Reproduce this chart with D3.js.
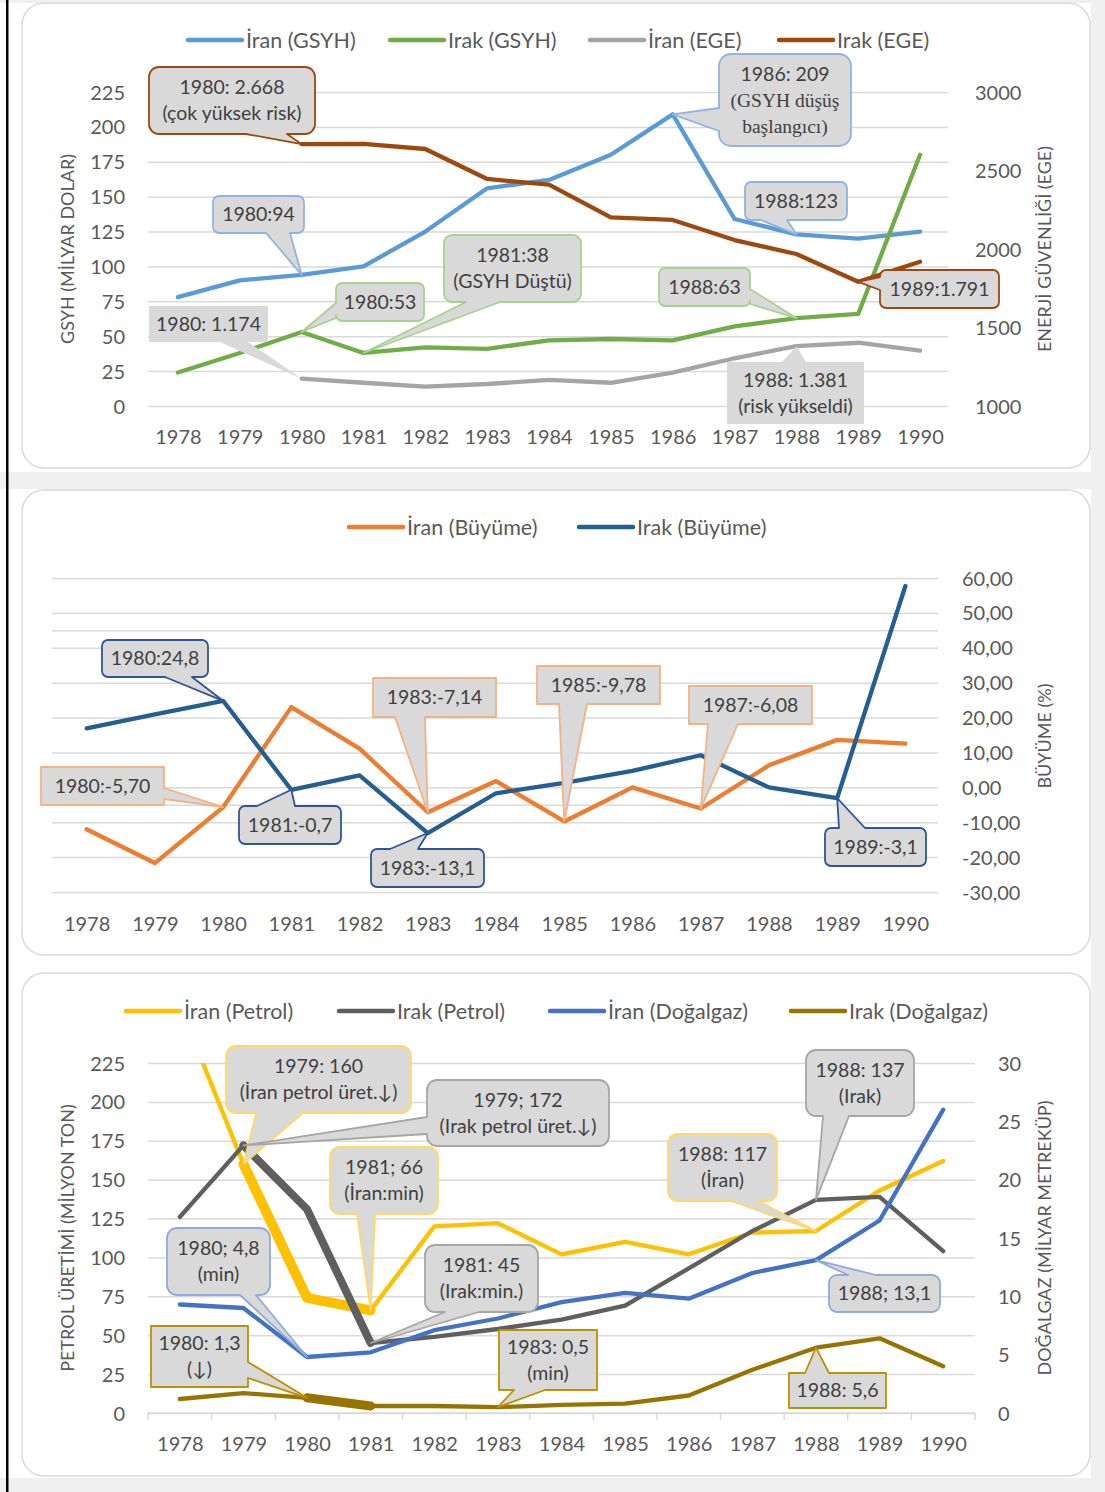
<!DOCTYPE html>
<html>
<head>
<meta charset="utf-8">
<script src="https://cdn.jsdelivr.net/npm/d3@7"></script>
<style>
  body { margin: 0; background: #fff; }
  svg { display: block; }
</style>
</head>
<body>
<div id="chart"></div>
<script>
// ---- data ----
const years = [1978, 1979, 1980, 1981, 1982, 1983, 1984, 1985, 1986, 1987, 1988, 1989, 1990];

// panel 1: GSYH (milyar dolar) + enerji güvenliği (EGE)
const iranGsyh = [78, 90, 94, 100, 125, 156, 162, 180, 209, 134, 123, 120, 125];
const irakGsyh = [24, 38, 53, 38, 42, 41, 47, 48, 47, 57, 63, 66, 180];
const iranEge = [null, null, 1174, 1148, 1123, 1140, 1166, 1148, 1212, 1304, 1381, 1403, 1352];
const irakEge = [null, null, 2668, 2670, 2637, 2446, 2410, 2202, 2185, 2057, 1968, 1791, 1919];
const p1LeftTicks = [0, 25, 50, 75, 100, 125, 150, 175, 200, 225];
const p1RightTicks = [1000, 1500, 2000, 2500, 3000];

// panel 2: büyüme (%)
const iranBuyume = [-12.0, -21.7, -5.70, 23.0, 11.1, -7.14, 1.8, -9.78, 0.0, -6.08, 6.3, 13.6, 12.5];
const irakBuyume = [16.9, 20.9, 24.8, -0.7, 3.4, -13.1, -1.7, 1.3, 4.7, 9.2, 0.0, -3.1, 57.7];
const p2Ticks = [-30, -20, -10, 0, 10, 20, 30, 40, 50, 60];
const p2ExtraGrid = [45, -5];

// panel 3: petrol (milyon ton) + doğalgaz (milyar m3)
const iranPetrol = [262, 160, 74, 66, 120, 122, 102, 110, 102, 116, 117, 143, 162];
const irakPetrol = [126, 172, 131, 45, 49, 54, 60, 69, 93, 117, 137, 139, 104];
const iranGaz = [9.3, 9.0, 4.8, 5.2, 7.1, 8.1, 9.5, 10.3, 9.8, 12.0, 13.1, 16.5, 26.0];
const irakGaz = [1.2, 1.7, 1.3, 0.6, 0.6, 0.5, 0.7, 0.8, 1.5, 3.7, 5.6, 6.4, 4.0];
const p3LeftTicks = [0, 25, 50, 75, 100, 125, 150, 175, 200, 225];
const p3RightTicks = [0, 5, 10, 15, 20, 25, 30];

// ---- page setup ----
const width = 1105, height = 1492;
const font = "Lato, 'Open Sans', sans-serif";
const labelColor = "#595959";
const gridColor = "#d9d9d9";
const calloutFill = "#d9d9d9";

const svg = d3.select("#chart").append("svg")
  .attr("width", width)
  .attr("height", height)
  .attr("font-family", font);

// background strips between the stacked chart images
const bg = svg.append("g");
bg.append("rect").attr("width", width).attr("height", height).attr("fill", "#fff");
[[0, 0, width, 3], [0, 472, width, 17], [1091, 0, 14, height], [0, 1478, width, 14]]
  .forEach(([x, y, w, h]) => bg.append("rect").attr("x", x).attr("y", y).attr("width", w).attr("height", h).attr("fill", "#f0f0f0"));
bg.append("rect").attr("x", 6).attr("y", 0).attr("width", 2.5).attr("height", height).attr("fill", "#000");

function drawPanel(y0, y1) {
  svg.append("rect")
    .attr("x", 22).attr("y", y0)
    .attr("width", 1068).attr("height", y1 - y0)
    .attr("rx", 22)
    .attr("fill", "#fff")
    .attr("stroke", gridColor)
    .attr("stroke-width", 1.5);
}

function drawGrid(yScale, ticks, x0, x1) {
  const g = svg.append("g")
    .attr("transform", `translate(${x0},0)`)
    .call(d3.axisLeft(yScale).tickValues(ticks).tickSize(-(x1 - x0)).tickFormat(""));
  g.select(".domain").remove();
  g.selectAll("line").attr("stroke", gridColor).attr("stroke-width", 1.5);
}

function drawYAxis(yScale, ticks, x, side, fmt) {
  const axis = side === "left" ? d3.axisLeft(yScale) : d3.axisRight(yScale);
  const g = svg.append("g")
    .attr("transform", `translate(${x},0)`)
    .call(axis.tickValues(ticks).tickSize(0).tickPadding(0).tickFormat(fmt || (d => d)));
  g.select(".domain").remove();
  g.selectAll("text")
    .attr("font-family", font)
    .attr("font-size", 20)
    .attr("fill", labelColor)
    .attr("dy", "0.35em");
}

function drawXAxis(xScale, y) {
  const g = svg.append("g")
    .attr("transform", `translate(0,${y})`)
    .call(d3.axisBottom(xScale).tickSize(0).tickPadding(0));
  g.select(".domain").remove();
  g.selectAll("text")
    .attr("font-family", font)
    .attr("font-size", 20)
    .attr("fill", labelColor)
    .attr("y", 0)
    .attr("dy", "0.35em");
}

function axisTitle(text, x, y) {
  svg.append("text")
    .attr("transform", `translate(${x},${y}) rotate(-90)`)
    .attr("text-anchor", "middle")
    .attr("dy", "0.35em")
    .attr("font-size", 18)
    .attr("fill", labelColor)
    .text(text);
}

function drawLegend(items, y) {
  const g = svg.append("g");
  items.forEach(it => {
    g.append("line")
      .attr("x1", it.x).attr("x2", it.x + 54)
      .attr("y1", y).attr("y2", y)
      .attr("stroke", it.color).attr("stroke-width", 4.5)
      .attr("stroke-linecap", "round");
    g.append("text")
      .attr("x", it.x + 58).attr("y", y)
      .attr("dy", "0.35em")
      .attr("font-size", 21.5)
      .attr("fill", labelColor)
      .text(it.name);
  });
}

function drawSeries(values, x, y, color, w, clip) {
  const pts = years.map((yr, i) => ({ yr, v: values[i] }));
  const line = d3.line()
    .defined(d => d.v !== null)
    .x(d => x(d.yr))
    .y(d => y(d.v));
  svg.append("path")
    .datum(pts)
    .attr("d", line)
    .attr("fill", "none")
    .attr("stroke", color)
    .attr("stroke-width", w)
    .attr("stroke-linejoin", "round")
    .attr("stroke-linecap", "round")
    .attr("clip-path", clip ? `url(#${clip})` : null);
}

function drawHighlight(values, x, y, color, w, from, to) {
  const pts = years.map((yr, i) => ({ yr, v: values[i] })).filter(d => d.yr >= from && d.yr <= to);
  svg.append("path")
    .datum(pts)
    .attr("d", d3.line().x(d => x(d.yr)).y(d => y(d.v)))
    .attr("fill", "none")
    .attr("stroke", color)
    .attr("stroke-width", w)
    .attr("stroke-linejoin", "round")
    .attr("stroke-linecap", "round");
}

// box outline with a pointer wedge on one side
function calloutPath(b, side, base, tip, r) {
  const [x0, y0, x1, y1] = b;
  const [a, c] = base;
  const [tx, ty] = tip;
  let p = `M${x0 + r},${y0}`;
  if (side === "top") p += `L${a},${y0}L${tx},${ty}L${c},${y0}`;
  p += `L${x1 - r},${y0}`;
  if (r) p += `A${r},${r} 0 0 1 ${x1},${y0 + r}`;
  if (side === "right") p += `L${x1},${a}L${tx},${ty}L${x1},${c}`;
  p += `L${x1},${y1 - r}`;
  if (r) p += `A${r},${r} 0 0 1 ${x1 - r},${y1}`;
  if (side === "bottom") p += `L${c},${y1}L${tx},${ty}L${a},${y1}`;
  p += `L${x0 + r},${y1}`;
  if (r) p += `A${r},${r} 0 0 1 ${x0},${y1 - r}`;
  if (side === "left") p += `L${x0},${c}L${tx},${ty}L${x0},${a}`;
  p += `L${x0},${y0 + r}`;
  if (r) p += `A${r},${r} 0 0 1 ${x0 + r},${y0}`;
  return p + "Z";
}

function drawCallouts(notes, x, seriesMap) {
  const g = svg.append("g");
  notes.forEach(n => {
    const s = seriesMap[n.series];
    const tip = [x(n.year), s.y(s.values[years.indexOf(n.year)])];
    g.append("path")
      .attr("d", calloutPath(n.box, n.side, n.base, tip, n.r))
      .attr("fill", calloutFill)
      .attr("stroke", n.border || "none")
      .attr("stroke-width", 1.8)
      .attr("stroke-linejoin", "round");
    const cx = (n.box[0] + n.box[2]) / 2;
    const cy = (n.box[1] + n.box[3]) / 2;
    n.lines.forEach((t, i) => {
      g.append("text")
        .attr("x", cx)
        .attr("y", cy + (i - (n.lines.length - 1) / 2) * 26)
        .attr("dy", "0.35em")
        .attr("text-anchor", "middle")
        .attr("font-family", n.serifFrom !== undefined && i >= n.serifFrom ? "'Liberation Serif', serif" : font)
        .attr("font-size", 19.5)
        .attr("fill", "#404040")
        .text(t);
    });
  });
}

// ================= PANEL 1 =================
drawPanel(3, 468);
const x1 = d3.scalePoint().domain(years).range([147, 951]).padding(0.5);
const y1L = d3.scaleLinear().domain([0, 225]).range([406, 92]);
const y1R = d3.scaleLinear().domain([1000, 3000]).range([406, 92]);

drawGrid(y1L, p1LeftTicks, 148, 948);
drawYAxis(y1L, p1LeftTicks, 125, "left");
drawYAxis(y1R, p1RightTicks, 975, "right");
drawXAxis(x1, 437);
axisTitle("GSYH (MİLYAR DOLAR)", 68, 249);
axisTitle("ENERJİ GÜVENLİĞİ (EGE)", 1045, 249);

const c1 = { iranGsyh: "#5b9bd5", irakGsyh: "#70ad47", iranEge: "#a5a5a5", irakEge: "#9e480e" };
drawLegend([
  { name: "İran (GSYH)", color: c1.iranGsyh, x: 188 },
  { name: "Irak (GSYH)", color: c1.irakGsyh, x: 390 },
  { name: "İran (EGE)", color: c1.iranEge, x: 590 },
  { name: "Irak (EGE)", color: c1.irakEge, x: 779 }
], 40);

drawSeries(iranGsyh, x1, y1L, c1.iranGsyh, 4.3);
drawSeries(irakGsyh, x1, y1L, c1.irakGsyh, 4.3);
drawSeries(iranEge, x1, y1R, c1.iranEge, 4.3);
drawSeries(irakEge, x1, y1R, c1.irakEge, 4.3);

const s1 = {
  iranGsyh: { values: iranGsyh, y: y1L },
  irakGsyh: { values: irakGsyh, y: y1L },
  iranEge: { values: iranEge, y: y1R },
  irakEge: { values: irakEge, y: y1R }
};
drawCallouts([
  { series: "irakEge", year: 1980, lines: ["1980: 2.668", "(çok yüksek risk)"], box: [149, 67, 315, 134], side: "bottom", base: [246, 287], r: 10, border: "#9e480e" },
  { series: "iranGsyh", year: 1980, lines: ["1980:94"], box: [213, 196, 304, 233], side: "bottom", base: [266, 290], r: 6, border: "#8eb4e3" },
  { series: "irakGsyh", year: 1980, lines: ["1980:53"], box: [336, 283, 424, 321], side: "left", base: [303, 318], r: 6, border: "#a9d18e" },
  { series: "irakGsyh", year: 1981, lines: ["1981:38", "(GSYH Düştü)"], box: [444, 235, 581, 302], side: "bottom", base: [466, 500], r: 8, border: "#a9d18e" },
  { series: "iranEge", year: 1980, lines: ["1980: 1.174"], box: [149, 306, 268, 342], side: "bottom", base: [220, 248], r: 0 },
  { series: "iranGsyh", year: 1986, lines: ["1986: 209", "(GSYH düşüş", "başlangıcı)"], serifFrom: 1, box: [719, 54, 851, 146], side: "left", base: [108, 131], r: 12, border: "#8eb4e3" },
  { series: "iranGsyh", year: 1988, lines: ["1988:123"], box: [745, 182, 847, 220], side: "bottom", base: [761, 787], r: 6, border: "#8eb4e3" },
  { series: "irakGsyh", year: 1988, lines: ["1988:63"], box: [659, 268, 750, 306], side: "right", base: [289, 304], r: 6, border: "#a9d18e" },
  { series: "irakEge", year: 1989, lines: ["1989:1.791"], box: [880, 270, 999, 308], side: "left", base: [277, 290], r: 6, border: "#9e480e" },
  { series: "iranEge", year: 1988, lines: ["1988: 1.381", "(risk yükseldi)"], box: [727, 362, 864, 424], side: "top", base: [782, 806], r: 0 }
], x1, s1);

// ================= PANEL 2 =================
drawPanel(490, 955);
const x2 = d3.scalePoint().domain(years).range([52.5, 939.5]).padding(0.5);
const y2 = d3.scaleLinear().domain([-30, 60]).range([892, 578]);
const trLocale = d3.formatLocale({ decimal: ",", thousands: ".", grouping: [3], currency: ["", "₺"], minus: "-" });
const fmt2 = trLocale.format(".2f");

drawGrid(y2, p2Ticks.concat(p2ExtraGrid), 52, 938);
drawYAxis(y2, p2Ticks, 962, "right", fmt2);
drawXAxis(x2, 924);
axisTitle("BÜYÜME (%)", 1045, 736);

const c2 = { iran: "#ed7d31", irak: "#255e91" };
drawLegend([
  { name: "İran (Büyüme)", color: c2.iran, x: 349 },
  { name: "Irak (Büyüme)", color: c2.irak, x: 579 }
], 527);

drawSeries(iranBuyume, x2, y2, c2.iran, 4.3);
drawSeries(irakBuyume, x2, y2, c2.irak, 4.3);

const s2 = {
  iran: { values: iranBuyume, y: y2 },
  irak: { values: irakBuyume, y: y2 }
};
drawCallouts([
  { series: "irak", year: 1980, lines: ["1980:24,8"], box: [102, 640, 208, 677], side: "bottom", base: [165, 192], r: 6, border: "#2f5597" },
  { series: "iran", year: 1980, lines: ["1980:-5,70"], box: [41, 767, 164, 805], side: "right", base: [788, 799], r: 0, border: "#f4b183" },
  { series: "irak", year: 1981, lines: ["1981:-0,7"], box: [239, 806, 341, 844], side: "top", base: [257, 295], r: 6, border: "#2f5597" },
  { series: "iran", year: 1983, lines: ["1983:-7,14"], box: [373, 678, 496, 717], side: "bottom", base: [395, 425], r: 0, border: "#f4b183" },
  { series: "irak", year: 1983, lines: ["1983:-13,1"], box: [371, 849, 484, 887], side: "top", base: [390, 418], r: 6, border: "#2f5597" },
  { series: "iran", year: 1985, lines: ["1985:-9,78"], box: [537, 666, 660, 704], side: "bottom", base: [559, 587], r: 0, border: "#f4b183" },
  { series: "iran", year: 1987, lines: ["1987:-6,08"], box: [689, 686, 812, 724], side: "bottom", base: [708, 738], r: 0, border: "#f4b183" },
  { series: "irak", year: 1989, lines: ["1989:-3,1"], box: [825, 828, 926, 866], side: "top", base: [839, 865], r: 6, border: "#2f5597" }
], x2, s2);

// ================= PANEL 3 =================
drawPanel(973, 1476);
const x3 = d3.scalePoint().domain(years).range([148, 975]).padding(0.5);
const x3Band = d3.scaleBand().domain(years).range([148, 975]);
const y3L = d3.scaleLinear().domain([0, 225]).range([1413, 1063]);
const y3R = d3.scaleLinear().domain([0, 30]).range([1413, 1063]);

drawGrid(y3L, p3LeftTicks, 148, 975);
// category axis with tick marks between years
const xa = svg.append("g").attr("stroke", gridColor).attr("stroke-width", 1.5);
xa.append("line").attr("x1", 148).attr("x2", 975).attr("y1", y3L(0)).attr("y2", y3L(0));
years.map(d => x3Band(d)).concat([x3Band(years[years.length - 1]) + x3Band.bandwidth()])
  .forEach(bx => xa.append("line").attr("x1", bx).attr("x2", bx).attr("y1", y3L(0)).attr("y2", y3L(0) + 7));

drawYAxis(y3L, p3LeftTicks, 125, "left");
drawYAxis(y3R, p3RightTicks, 998, "right");
drawXAxis(x3, 1444);
axisTitle("PETROL ÜRETİMİ (MİLYON TON)", 68, 1238);
axisTitle("DOĞALGAZ (MİLYAR METREKÜP)", 1045, 1238);

const c3 = { iranPetrol: "#ffc000", irakPetrol: "#5f5f5f", iranGaz: "#4472c4", irakGaz: "#997300" };
drawLegend([
  { name: "İran (Petrol)", color: c3.iranPetrol, x: 126 },
  { name: "Irak (Petrol)", color: c3.irakPetrol, x: 339 },
  { name: "İran (Doğalgaz)", color: c3.iranGaz, x: 550 },
  { name: "Irak (Doğalgaz)", color: c3.irakGaz, x: 791 }
], 1011);

svg.append("clipPath").attr("id", "clip3")
  .append("rect").attr("x", 140).attr("y", 1063).attr("width", 845).attr("height", 360);

drawSeries(iranPetrol, x3, y3L, c3.iranPetrol, 4.3, "clip3");
drawHighlight(iranPetrol, x3, y3L, c3.iranPetrol, 10, 1979, 1981);
drawSeries(irakPetrol, x3, y3L, c3.irakPetrol, 4.3, "clip3");
drawHighlight(irakPetrol, x3, y3L, c3.irakPetrol, 8, 1979, 1981);
drawSeries(iranGaz, x3, y3R, c3.iranGaz, 4.3, "clip3");
drawSeries(irakGaz, x3, y3R, c3.irakGaz, 4.3, "clip3");
drawHighlight(irakGaz, x3, y3R, c3.irakGaz, 9, 1980, 1981);

const s3 = {
  iranPetrol: { values: iranPetrol, y: y3L },
  irakPetrol: { values: irakPetrol, y: y3L },
  iranGaz: { values: iranGaz, y: y3R },
  irakGaz: { values: irakGaz, y: y3R }
};
drawCallouts([
  { series: "iranPetrol", year: 1979, lines: ["1979: 160", "(İran petrol üret.↓)"], box: [226, 1046, 411, 1113], side: "bottom", base: [256, 303], r: 10, border: "#ffd966" },
  { series: "irakPetrol", year: 1979, lines: ["1979; 172", "(Irak petrol üret.↓)"], box: [427, 1080, 609, 1146], side: "left", base: [1117, 1134], r: 10, border: "#a6a6a6" },
  { series: "iranPetrol", year: 1981, lines: ["1981; 66", "(İran:min)"], box: [330, 1147, 438, 1214], side: "bottom", base: [357, 375], r: 10, border: "#ffd966" },
  { series: "iranGaz", year: 1980, lines: ["1980; 4,8", "(min)"], box: [167, 1228, 270, 1295], side: "bottom", base: [240, 256], r: 10, border: "#8faadc" },
  { series: "irakPetrol", year: 1981, lines: ["1981: 45", "(Irak:min.)"], box: [425, 1245, 538, 1312], side: "bottom", base: [445, 479], r: 10, border: "#a6a6a6" },
  { series: "irakGaz", year: 1980, lines: ["1980: 1,3", "(↓)"], box: [151, 1326, 248, 1387], side: "right", base: [1362, 1378], r: 0, border: "#bf9000" },
  { series: "irakGaz", year: 1983, lines: ["1983: 0,5", "(min)"], box: [499, 1330, 597, 1390], side: "bottom", base: [514, 545], r: 0, border: "#bf9000" },
  { series: "iranPetrol", year: 1988, lines: ["1988: 117", "(İran)"], box: [668, 1134, 777, 1201], side: "bottom", base: [731, 758], r: 10, border: "#ffd966" },
  { series: "irakPetrol", year: 1988, lines: ["1988: 137", "(Irak)"], box: [806, 1050, 914, 1116], side: "bottom", base: [823, 849], r: 10, border: "#a6a6a6" },
  { series: "iranGaz", year: 1988, lines: ["1988; 13,1"], box: [829, 1275, 940, 1312], side: "top", base: [848, 876], r: 8, border: "#8faadc" },
  { series: "irakGaz", year: 1988, lines: ["1988: 5,6"], box: [789, 1373, 886, 1408], side: "top", base: [805, 829], r: 0, border: "#bf9000" }
], x3, s3);
</script>
</body>
</html>
